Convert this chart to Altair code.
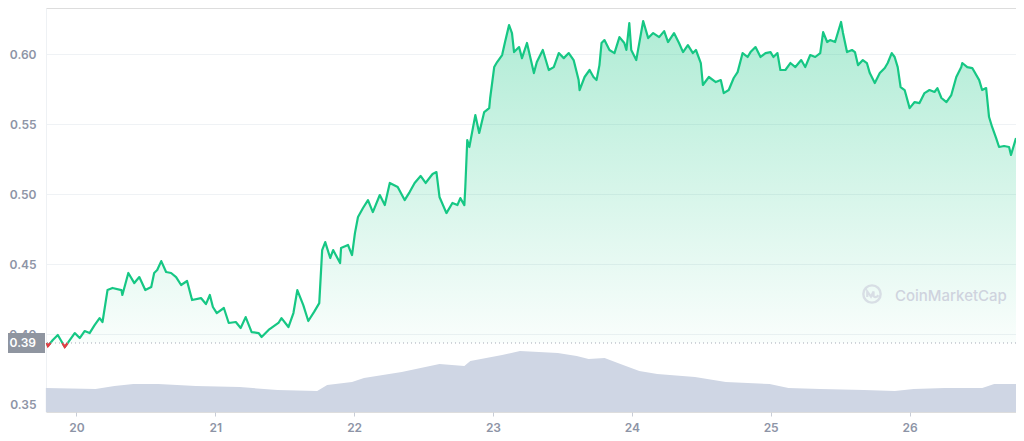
import altair as alt
import pandas as pd

# ---- data (day of month, price in USD) ----
days = [19.787, 19.795, 19.830, 19.866, 19.916, 19.952, 19.988, 20.024, 20.059, 20.095,
        20.131, 20.167, 20.188, 20.224, 20.260, 20.324, 20.331, 20.374, 20.417, 20.453,
        20.496, 20.539, 20.560, 20.582, 20.611, 20.646, 20.682, 20.718, 20.754, 20.797,
        20.833, 20.897, 20.933, 20.961, 20.983, 21.011, 21.062, 21.097, 21.148, 21.183,
        21.219, 21.262, 21.312, 21.334, 21.384, 21.455, 21.477, 21.527, 21.563, 21.591,
        21.634, 21.670, 21.713, 21.749, 21.770, 21.792, 21.828, 21.849, 21.899, 21.906,
        21.956, 21.985, 22.006, 22.028, 22.064, 22.100, 22.135, 22.185, 22.221, 22.257,
        22.314, 22.364, 22.400, 22.436, 22.479, 22.515, 22.565, 22.593, 22.615, 22.665,
        22.708, 22.744, 22.765, 22.794, 22.801, 22.815, 22.830, 22.873, 22.901, 22.937,
        22.973, 22.980, 23.009, 23.030, 23.066, 23.087, 23.116, 23.137, 23.152, 23.188,
        23.209, 23.245, 23.295, 23.316, 23.359, 23.402, 23.438, 23.474, 23.510, 23.546,
        23.581, 23.617, 23.624, 23.660, 23.696, 23.724, 23.746, 23.767, 23.782, 23.803,
        23.839, 23.875, 23.911, 23.946, 23.961, 23.982, 23.996, 24.032, 24.082, 24.118,
        24.154, 24.197, 24.233, 24.261, 24.304, 24.340, 24.369, 24.404, 24.440, 24.462,
        24.497, 24.512, 24.555, 24.605, 24.641, 24.662, 24.698, 24.734, 24.762, 24.798,
        24.834, 24.855, 24.891, 24.927, 24.963, 24.999, 25.020, 25.049, 25.070, 25.106,
        25.142, 25.178, 25.220, 25.249, 25.285, 25.321, 25.357, 25.378, 25.407, 25.428,
        25.464, 25.507, 25.521, 25.550, 25.586, 25.607, 25.629, 25.664, 25.693, 25.714,
        25.750, 25.786, 25.822, 25.843, 25.872, 25.893, 25.915, 25.936, 25.965, 26.001,
        26.037, 26.072, 26.108, 26.144, 26.180, 26.201, 26.230, 26.266, 26.301, 26.337,
        26.373, 26.380, 26.416, 26.452, 26.502, 26.523, 26.552, 26.573, 26.595, 26.624,
        26.645, 26.681, 26.717, 26.731, 26.767]
prices = [0.3936, 0.3914, 0.3957, 0.3993, 0.3907, 0.3957, 0.4007, 0.3971, 0.4021, 0.4007,
          0.4064, 0.4114, 0.4086, 0.4314, 0.4329, 0.4314, 0.4279, 0.4436, 0.4364, 0.4407,
          0.4314, 0.4336, 0.4436, 0.4457, 0.4521, 0.4443, 0.4436, 0.4407, 0.4350, 0.4379,
          0.4243, 0.4257, 0.4214, 0.4279, 0.4193, 0.4150, 0.4186, 0.4079, 0.4086, 0.4043,
          0.4121, 0.4014, 0.4007, 0.3979, 0.4029, 0.4079, 0.4114, 0.4050, 0.4150, 0.4314,
          0.4207, 0.4093, 0.4160, 0.4221, 0.4600, 0.4657, 0.4543, 0.4600, 0.4507, 0.4614,
          0.4636, 0.4564, 0.4721, 0.4836, 0.4900, 0.4957, 0.4871, 0.4993, 0.4921, 0.5079,
          0.5050, 0.4957, 0.5014, 0.5079, 0.5129, 0.5079, 0.5143, 0.5157, 0.4979, 0.4864,
          0.4936, 0.4921, 0.4971, 0.4921, 0.5050, 0.5386, 0.5336, 0.5564, 0.5436, 0.5586,
          0.5614, 0.5686, 0.5907, 0.5943, 0.5993, 0.6086, 0.6207, 0.6150, 0.6014, 0.6050,
          0.5971, 0.6079, 0.5864, 0.5943, 0.6029, 0.5886, 0.5907, 0.6007, 0.5971, 0.6007,
          0.5957, 0.5814, 0.5743, 0.5836, 0.5886, 0.5836, 0.5814, 0.5921, 0.6079, 0.6100,
          0.6029, 0.6007, 0.6121, 0.6079, 0.6029, 0.6221, 0.6029, 0.5957, 0.6236, 0.6114,
          0.6150, 0.6121, 0.6164, 0.6086, 0.6150, 0.6079, 0.6014, 0.6064, 0.6007, 0.6029,
          0.5936, 0.5779, 0.5836, 0.5800, 0.5814, 0.5721, 0.5743, 0.5829, 0.5871, 0.6007,
          0.5979, 0.6014, 0.6050, 0.5979, 0.6007, 0.6014, 0.5979, 0.6007, 0.5886, 0.5886,
          0.5936, 0.5907, 0.5957, 0.5907, 0.5993, 0.5979, 0.6007, 0.6157, 0.6086, 0.6100,
          0.6086, 0.6229, 0.6150, 0.6014, 0.6029, 0.6014, 0.5921, 0.5957, 0.5936, 0.5864,
          0.5793, 0.5864, 0.5900, 0.5936, 0.6007, 0.5979, 0.5907, 0.5764, 0.5743, 0.5614,
          0.5657, 0.5650, 0.5721, 0.5743, 0.5729, 0.5757, 0.5686, 0.5657, 0.5707, 0.5836,
          0.5907, 0.5936, 0.5907, 0.5900, 0.5814, 0.5743, 0.5757, 0.5550, 0.5479, 0.5400,
          0.5336, 0.5343, 0.5336, 0.5279, 0.5400]

vol_days = [19.780, 20.138, 20.274, 20.410, 20.589, 20.861, 21.176, 21.448, 21.734, 21.806,
            21.985, 22.071, 22.343, 22.615, 22.794, 22.837, 23.066, 23.195, 23.467, 23.603,
            23.689, 23.804, 23.918, 24.054, 24.183, 24.455, 24.677, 24.992, 25.128, 25.357,
            25.672, 25.894, 26.030, 26.252, 26.524, 26.610, 26.767]
volumes = [240, 230, 260, 280, 280, 260, 250, 220, 210, 270,
           300, 340, 400, 480, 460, 510, 570, 610, 590, 560,
           530, 540, 480, 410, 380, 350, 300, 280, 240, 230,
           220, 210, 230, 240, 240, 280, 280]

x_ticks = [20, 21, 22, 23, 24, 25, 26]
y_ticks = [0.35, 0.40, 0.45, 0.50, 0.55, 0.60]
start_label = "0.39"
watermark = "CoinMarketCap"

GREEN = "#16c784"
RED = "#ea3943"
AXIS_GREY = "#8d94a6"
FONT = "Inter"
WM = "#cfd3de"

base = prices[0]
df = pd.DataFrame({"day": days, "price": prices})
vol_df = pd.DataFrame({"day": vol_days, "volume": volumes})
one = pd.DataFrame({"k": [0]})

# segments of the line that dip below the opening price (drawn red)
rows = []
seg = 0
in_seg = False
n = len(prices)
for i in range(n):
    below = prices[i] < base
    if below and not in_seg:
        seg += 1
        in_seg = True
        if i > 0:
            p0, p1 = prices[i - 1], prices[i]
            t = (p0 - base) / (p0 - p1)
            rows.append({"day": days[i - 1] + t * (days[i] - days[i - 1]), "price": base, "seg": seg})
    if below:
        rows.append({"day": days[i], "price": prices[i], "seg": seg})
        if i == n - 1 or prices[i + 1] >= base:
            if i < n - 1:
                p0, p1 = prices[i], prices[i + 1]
                t = (base - p0) / (p1 - p0)
                rows.append({"day": days[i] + t * (days[i + 1] - days[i]), "price": base, "seg": seg})
            in_seg = False
red_df = pd.DataFrame(rows)

x_scale = alt.Scale(domain=[19.781, 26.767], nice=False, zero=False)
y_scale = alt.Scale(domain=[0.3443, 0.6329], nice=False, zero=False)

x_enc = alt.X("day:Q", scale=x_scale,
              axis=alt.Axis(values=x_ticks, format="d", grid=False, domain=False,
                            ticks=True, tickSize=4, tickColor="#c8cdd7", title=None,
                            labelColor=AXIS_GREY, labelFont=FONT, labelFontSize=12,
                            labelFontWeight=600, labelPadding=6))
y_axis = alt.Axis(values=y_ticks, format=".2f", grid=True, gridColor="#eff2f5",
                  domain=True, domainColor="#eef1f4", ticks=False, tickSize=0,
                  title=None, labelColor=AXIS_GREY, labelFont=FONT, labelFontSize=12,
                  labelFontWeight=600, labelPadding=10)

fill = alt.Gradient(
    gradient="linear",
    stops=[alt.GradientStop(color="rgba(22,199,132,0.34)", offset=0),
           alt.GradientStop(color="rgba(22,199,132,0.02)", offset=1)],
    x1=1, x2=1, y1=0, y2=1,
)

area = alt.Chart(df).mark_area(color=fill, interpolate="linear").encode(
    x=x_enc,
    y=alt.Y("price:Q", scale=y_scale, axis=y_axis),
    y2=alt.datum(base),
)

line = alt.Chart(df).mark_line(color=GREEN, strokeWidth=2.2, strokeJoin="round").encode(
    x="day:Q",
    y=alt.Y("price:Q", scale=y_scale),
)

red = alt.Chart(red_df).mark_line(color=RED, strokeWidth=2.2).encode(
    x="day:Q",
    y=alt.Y("price:Q", scale=y_scale),
    detail="seg:N",
)

base_rule = alt.Chart(one).mark_rule(color="#a3a9b6", strokeDash=[1, 3], strokeWidth=1).encode(
    y=alt.datum(base),
)

box = alt.Chart(one).mark_rect(color="#8f95a0", yOffset=-10, y2Offset=10).encode(
    x=alt.value(-38), x2=alt.value(-1),
    y=alt.datum(base), y2=alt.datum(base),
)

box_text = alt.Chart(one).mark_text(
    text=start_label, color="white", font=FONT, fontSize=12, fontWeight=600,
    align="right", baseline="middle",
).encode(x=alt.value(-10), y=alt.datum(base))

wm_text = alt.Chart(one).mark_text(
    text=watermark, color=WM, font=FONT, fontSize=15, fontWeight=500,
    align="left", baseline="middle",
).encode(x=alt.value(849), y=alt.value(288))

wm_circle = alt.Chart(one).mark_point(
    shape="circle", filled=False, color=WM, strokeWidth=2.4, size=300,
).encode(x=alt.value(826), y=alt.value(286))

wm_wave = alt.Chart(one).mark_point(
    shape="M-0.55,0.35L-0.55,-0.3L-0.12,0.3L0.18,-0.3L0.18,0.25Q0.45,0.5 0.75,0.15",
    filled=False, color=WM, strokeWidth=2.2, size=300,
).encode(x=alt.value(826), y=alt.value(286))

volume = alt.Chart(vol_df).mark_area(color="#cfd6e4", interpolate="linear").encode(
    x="day:Q",
    y=alt.Y("volume:Q", scale=alt.Scale(domain=[0, 4040], nice=False), axis=None),
)

price_layer = alt.layer(area, line, red, base_rule, box, box_text, wm_circle, wm_wave, wm_text)

chart = alt.layer(volume, price_layer).resolve_scale(y="independent").properties(
    width=970, height=404,
    autosize=alt.AutoSizeParams(type="none"),
    padding={"left": 38, "top": 0, "right": 0, "bottom": 29},
).configure_view(stroke=None).configure(background="white")

chart.save("out.html", embed_options={"renderer": "svg", "actions": False})
